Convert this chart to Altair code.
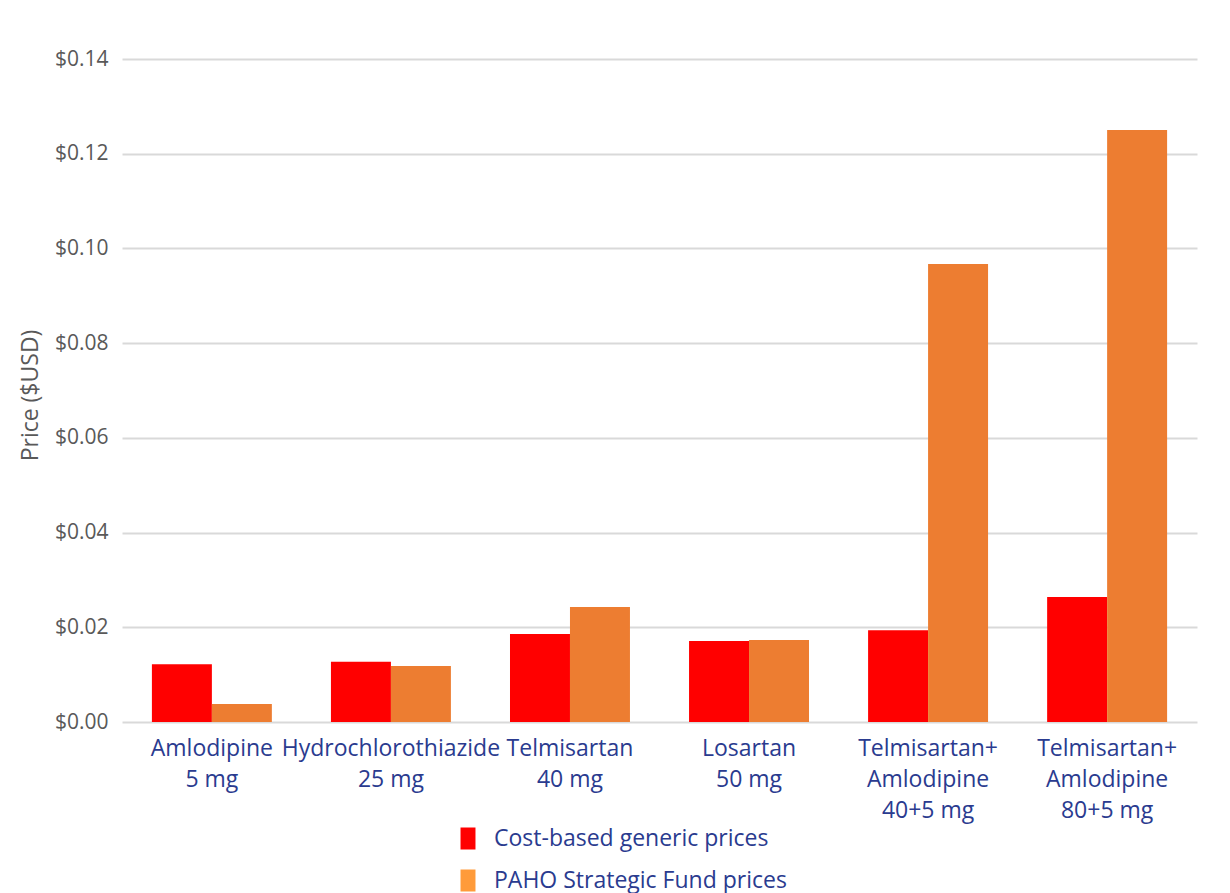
import altair as alt
import pandas as pd

drugs = [
    "Amlodipine|5 mg",
    "Hydrochlorothiazide|25 mg",
    "Telmisartan|40 mg",
    "Losartan|50 mg",
    "Telmisartan+|Amlodipine|40+5 mg",
    "Telmisartan+|Amlodipine|80+5 mg",
]
series = ["Cost-based generic prices", "PAHO Strategic Fund prices"]
cost_based = [0.0122, 0.0127, 0.0186, 0.0171, 0.0194, 0.0264]
paho = [0.0038, 0.0118, 0.0243, 0.0173, 0.0967, 0.1250]

bar_colors = ["#FF0000", "#ED7D31"]
legend_colors = ["#FF0000", "#FF9B3A"]

rows = []
for d, c, p in zip(drugs, cost_based, paho):
    rows.append({"drug": d, "series": series[0], "price": c})
    rows.append({"drug": d, "series": series[1], "price": p})
df = pd.DataFrame(rows)

FONT = "Open Sans"
NAVY = "#2A3B8F"
GRAY = "#595959"

x_enc = alt.X(
    "drug:N",
    sort=drugs,
    scale=alt.Scale(paddingInner=0.33, paddingOuter=0.167),
    axis=alt.Axis(
        title=None,
        labelExpr="split(datum.label, '|')",
        labelAngle=0,
        labelFont=FONT,
        labelFontSize=23,
        labelColor=NAVY,
        labelLineHeight=31,
        labelPadding=15,
        labelBaseline="top",
        labelOverlap=False,
        labelLimit=500,
        domain=False,
        ticks=False,
        grid=False,
    ),
)
xoff_enc = alt.XOffset("series:N", sort=series, scale=alt.Scale(paddingInner=0, paddingOuter=0))

bars = alt.Chart(df).mark_bar().encode(
    x=x_enc,
    xOffset=xoff_enc,
    y=alt.Y(
        "price:Q",
        scale=alt.Scale(domain=[0, 0.14], nice=False),
        axis=alt.Axis(
            title="Price ($USD)",
            format="$.2f",
            values=[0, 0.02, 0.04, 0.06, 0.08, 0.10, 0.12, 0.14],
            labelFont=FONT,
            labelFontSize=21,
            labelColor=GRAY,
            labelPadding=14,
            titleFont=FONT,
            titleFontSize=23,
            titleFontWeight="normal",
            titleColor=GRAY,
            titleX=-92,
            titleY=336,
            titleAngle=-90,
            titleAlign="center",
            titleBaseline="middle",
            domain=False,
            ticks=False,
            grid=True,
            gridColor="#D9D9D9",
            gridWidth=2,
        ),
    ),
    color=alt.Color(
        "series:N",
        sort=series,
        scale=alt.Scale(domain=series, range=bar_colors),
        legend=None,
    ),
)

legend_layer = alt.Chart(df).mark_bar().encode(
    x=alt.X("drug:N", sort=drugs),
    xOffset=xoff_enc,
    y=alt.datum(0),
    color=alt.Color(
        "series:N",
        sort=series,
        scale=alt.Scale(domain=series, range=legend_colors),
        legend=alt.Legend(
            title=None,
            orient="none",
            legendX=334.5,
            legendY=768,
            direction="vertical",
            padding=0,
            symbolType="M-0.68,-1H0.68V1H-0.68Z",
            symbolSize=484,
            symbolStrokeWidth=0,
            symbolOpacity=1,
            labelFont=FONT,
            labelFontSize=23,
            labelColor=NAVY,
            labelOffset=14.5,
            rowPadding=18,
            labelLimit=500,
        ),
    ),
)

chart = (
    alt.layer(bars, legend_layer)
    .resolve_scale(color="independent")
    .properties(
        width=1075,
        height=663,
        autosize=alt.AutoSizeParams(type="none"),
        padding={"left": 122, "top": 59, "right": 33, "bottom": 171},
        background="white",
    )
    .configure_view(stroke=None)
)

chart.save("out.html", embed_options={"renderer": "svg", "actions": False})
